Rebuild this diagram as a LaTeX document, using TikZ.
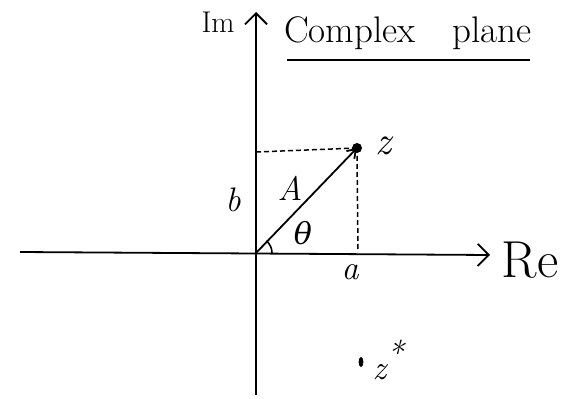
\documentclass[tikz,border=0pt]{standalone}
\usepackage{fontspec}
\newfontfamily\grk{DejaVu Serif}
\usetikzlibrary{arrows.meta}
\begin{document}
\begin{tikzpicture}[x=1pt,y=-1pt,
  axis/.style={line width=1.8pt,-{Straight Barb[length=11pt,width=22pt,line width=1.8pt]}},
  guide/.style={line width=1.5pt,dashed,dash pattern=on 5pt off 3pt},
  lbl/.style={inner sep=0pt,font=\fontsize{34}{36}\selectfont\itshape}]
\useasboundingbox (0,0) rectangle (563,399);
\coordinate (O) at (256,253);
\coordinate (xl) at (20,252);
\coordinate (xr) at (490,255);
\coordinate (yb) at (256,395);
\coordinate (yt) at (256,12);
\coordinate (Z) at (357,148);
\coordinate (bz) at (256,152);
\coordinate (az) at (358,252);
\draw[axis] (xl) -- (xr);
\draw[axis] (yb) -- (yt);
\draw[line width=1.8pt,-{Straight Barb[length=8pt,width=11pt]}] (O) -- (Z);
\fill (Z) circle (5pt);
\draw[guide] (bz) -- (Z);
\draw[guide] (Z) ++(0,8) -- (az);
\draw[line width=1.6pt] (272,253) arc (0:-50:16);
\node[lbl,font=\fontsize{30}{32}\selectfont] (im) at (218,22) {Im};
\node[lbl,font=\fontsize{37}{40}\selectfont] (title) at (408,33) {Complex\quad plane};
\draw[line width=1.8pt] (287,60) -- (530,60);
\node[lbl,font=\fontsize{52}{54}\selectfont] (re) at (530,260) {Re};
\node[lbl,font=\fontsize{40}{42}\selectfont\itshape] (zl) at (383,146) {z};
\node[lbl] (bl) at (233,200) {b};
\node[lbl] (Al) at (290,188) {A};
\node[lbl,font=\fontsize{30}{32}\selectfont] (th) at (303,233) {\grk\itshape θ};
\node[lbl] (al) at (350,272) {a};
\fill (361,362) ellipse (2.4pt and 5pt);
\node[lbl] (zs) at (388,360) {z\raisebox{0.4em}{*}};
\end{tikzpicture}
\end{document}
